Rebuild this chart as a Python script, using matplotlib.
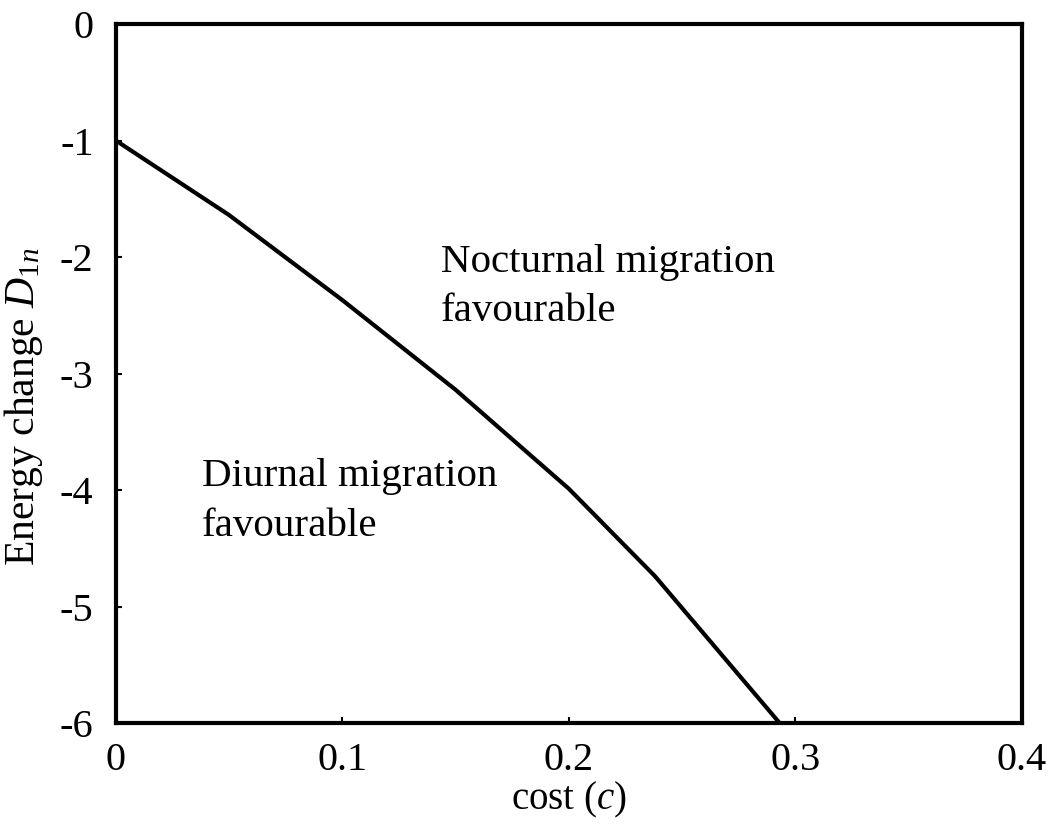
import matplotlib.pyplot as plt

plt.rcParams['font.family'] = 'Liberation Serif'
plt.rcParams['mathtext.fontset'] = 'custom'
plt.rcParams['mathtext.rm'] = 'Liberation Serif'
plt.rcParams['mathtext.it'] = 'Liberation Serif:italic'

# boundary curve
cost = [0.0, 0.05, 0.1, 0.15, 0.2, 0.238, 0.293]
energy = [-1.0, -1.64, -2.37, -3.14, -3.99, -4.74, -6.0]

xticks = [0, 0.1, 0.2, 0.3, 0.4]
xticklabels = ['0', '0.1', '0.2', '0.3', '0.4']
yticks = [0, -1, -2, -3, -4, -5, -6]
yticklabels = ['0', '-1', '-2', '-3', '-4', '-5', '-6']

fig = plt.figure(figsize=(10.53, 8.25), dpi=100)
ax = fig.add_axes([0.110, 0.1236, 0.8606, 0.8473])

ax.plot(cost, energy, color='black', lw=3, solid_joinstyle='miter')

ax.set_xlim(0, 0.4)
ax.set_ylim(-6, 0)
ax.set_xticks(xticks)
ax.set_xticklabels(xticklabels)
ax.set_yticks(yticks)
ax.set_yticklabels(yticklabels)
ax.tick_params(direction='in', length=4, width=1.5, labelsize=29, pad=14)
ax.tick_params(axis='y', pad=16)
for s in ax.spines.values():
    s.set_linewidth(3)

ax.set_xlabel(r'cost ($c$)', fontsize=28, labelpad=0)
ax.set_ylabel(r'Energy change $D_{1n}$', fontsize=30)
ax.yaxis.set_label_coords(-0.078, 0.453)

# region labels
ax.text(0.1434, -2.125, 'Nocturnal migration', fontsize=29.5, va='baseline')
ax.text(0.1434, -2.553, 'favourable', fontsize=29.5, va='baseline')
ax.text(0.038, -3.967, 'Diurnal migration', fontsize=29.5, va='baseline')
ax.text(0.038, -4.396, 'favourable', fontsize=29.5, va='baseline')

fig.savefig('out.png', dpi=100)
